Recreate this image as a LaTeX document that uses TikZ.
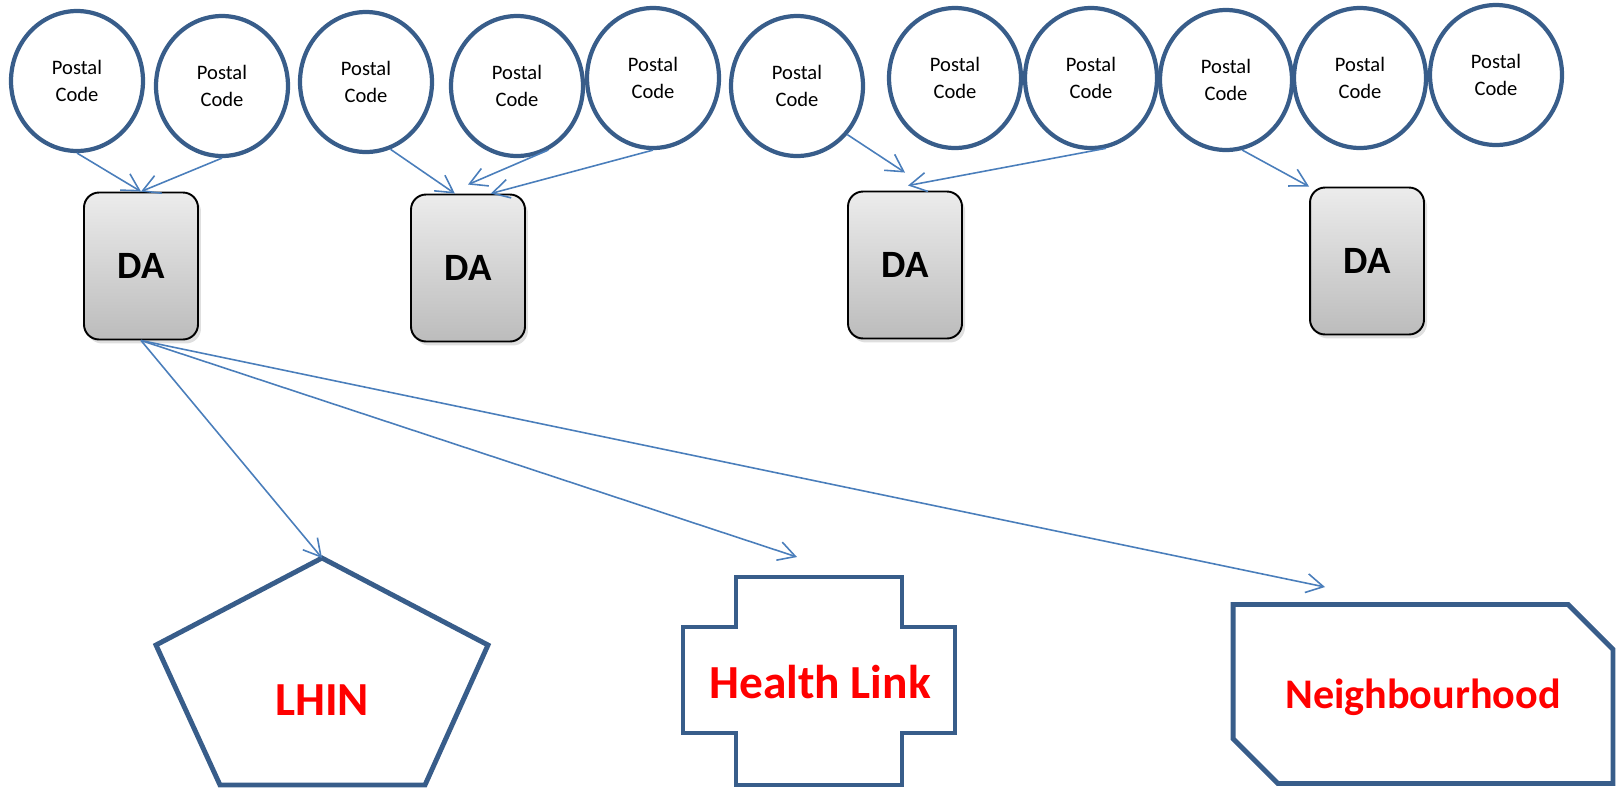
\documentclass[tikz,border=0pt]{standalone}
\usepackage{fontspec}
\setmainfont{Carlito}
\usepackage{tikz}
\usetikzlibrary{arrows.meta,positioning,shapes,shadows}
\usepackage{xcolor}
\definecolor{ringblue}{RGB}{56,93,138}
\definecolor{linkblue}{RGB}{74,126,187}
\definecolor{datop}{RGB}{236,236,236}
\definecolor{dabottom}{RGB}{188,188,188}

\begin{document}
\begin{tikzpicture}[x=0.02cm, y=-0.02cm,
    postal/.style={ellipse, draw=ringblue, line width=2.4pt, minimum width=2.64cm,
        minimum height=2.8cm, inner sep=0pt, align=center,
        font=\fontsize{11.7}{15}\selectfont},
    da/.style={rectangle, rounded corners=0.3cm, draw=black, line width=1.1pt,
        top color=datop, bottom color=dabottom, minimum width=2.28cm,
        minimum height=2.94cm,
        drop shadow={shadow xshift=0.6mm, shadow yshift=-0.8mm, opacity=0.25},
        font=\fontsize{22}{26}\selectfont\bfseries},
    region/.style={draw=ringblue, line width=2.8pt, line join=miter},
    areatext/.style={text=red, font=\fontsize{27}{31}\selectfont\bfseries},
    link/.style={draw=linkblue, line width=0.9pt,
        -{Straight Barb[length=3.4mm, width=3.8mm, line width=0.9pt]}}]

\useasboundingbox (0,0) rectangle (1621,789);

\node[postal](pc1) at (77,81){Postal\\Code};
\node[postal](pc2) at (222,86){Postal\\Code};
\node[postal](pc3) at (366,82){Postal\\Code};
\node[postal](pc4) at (517,86){Postal\\Code};
\node[postal](pc5) at (653,78){Postal\\Code};
\node[postal](pc6) at (797,86){Postal\\Code};
\node[postal](pc7) at (955,78){Postal\\Code};
\node[postal](pc8) at (1091,78){Postal\\Code};
\node[postal](pc9) at (1226,80){Postal\\Code};
\node[postal](pc10) at (1360,78){Postal\\Code};
\node[postal](pc11) at (1496,75){Postal\\Code};

\node[da](da1) at (141,266){DA};
\node[da](da2) at (468,268){DA};
\node[da](da3) at (905,265){DA};
\node[da](da4) at (1367,261){DA};

\coordinate (lhintop) at (322,558);
\draw[region] (lhintop) -- (488,645) -- (425,785) -- (220,785) -- (156,645) -- cycle;
\node[areatext](lhin) at (322,700){LHIN};

\draw[region] (736,577) -- (902,577) -- (902,627) -- (955,627) -- (955,733)
    -- (902,733) -- (902,785) -- (736,785) -- (736,733) -- (683,733)
    -- (683,627) -- (736,627) -- cycle;
\node[areatext](hlink) at (820,682){Health Link};
\coordinate (hlinkin) at (797,557);

\node[region, chamfered rectangle, chamfered rectangle corners={north east,south west},
    chamfered rectangle xsep=0.6cm, chamfered rectangle ysep=0.6cm,
    minimum width=7.6cm, minimum height=3.58cm, inner sep=0pt, text depth=0pt,
    text=red, font=\fontsize{24}{28}\selectfont\bfseries](nbhd) at (1423,694){Neighbourhood};
\coordinate (nbhdin) at (1325,587);

\draw[link] (pc1.south) -- (da1.north);
\draw[link] (pc2.south) -- (da1.north);
\draw[link] (pc3.290) -- (da2.100);
\draw[link] (pc4.296) -- ([yshift=0.18cm]da2.north);
\draw[link] (pc5.south) -- (da2.73);
\draw[link] (pc6.316) -- ([yshift=0.36cm]da3.north);
\draw[link] (pc8.282) -- ([xshift=0.06cm, yshift=0.1cm]da3.north);
\draw[link] (pc9.283) -- (da4.north west);

\draw[link] (da1.south) -- (lhintop);
\draw[link] (da1.south) -- (hlinkin);
\draw[link] (da1.south) -- (nbhdin);

\end{tikzpicture}
\end{document}
